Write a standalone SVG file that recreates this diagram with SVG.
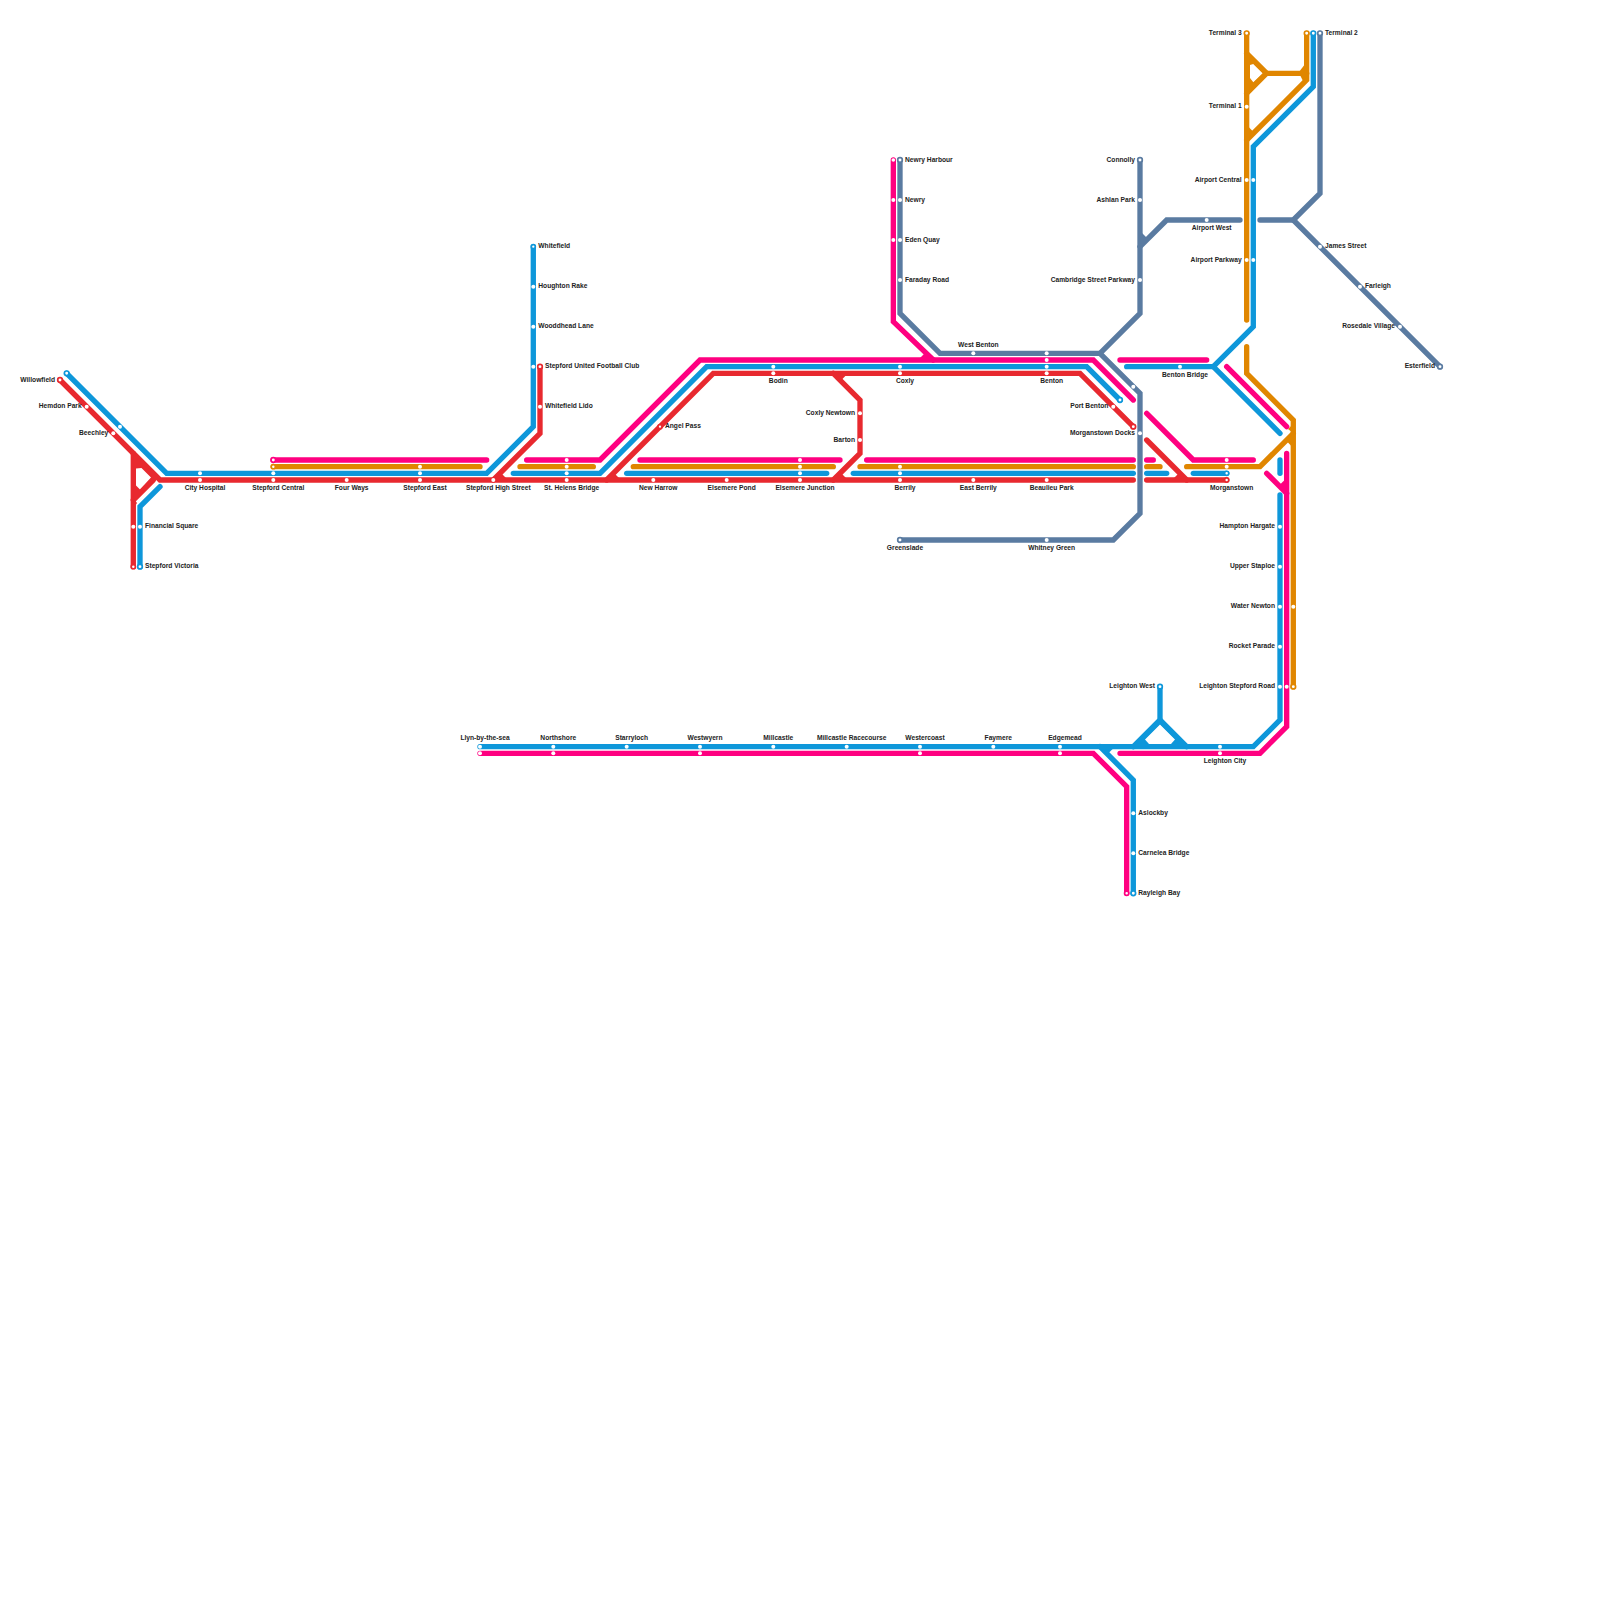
<svg xmlns="http://www.w3.org/2000/svg" width="1600" height="1600" viewBox="0 0 1600 1600">
<style>
text{font-family:"Liberation Sans",Arial,sans-serif;font-size:6.67px;font-weight:700;fill:#222}
.m{text-anchor:middle}.e{text-anchor:end}
.l{fill:none;stroke-width:5.33;stroke-linecap:round;stroke-linejoin:miter}
.r{stroke:#e8292f}.b{stroke:#0e97da}.p{stroke:#ff0080}.o{stroke:#e08600}.s{stroke:#5a7ba1}
.fr{fill:#e8292f}.fb{fill:#0e97da}.fp{fill:#ff0080}.fo{fill:#e08600}.fs{fill:#5a7ba1}
.d{fill:#fff}
circle.t{fill:#fff;stroke-width:1.7}
</style>
<rect width="1600" height="1600" fill="#fff"/>
<g id="connectors">
<g id="line-steel">
<path class="l s" d="M900 160V313.3L940 353.3H1100L1140 393.3V513.3L1113.3 540H900"/>
<path class="l s" d="M1140 160V313.3L1100 353.3"/>
<path class="l s" d="M1140 246.67L1166.67 220H1240"/>
<path class="l s" d="M1320 33.3V193.3L1293.3 220H1260"/>
<path class="l s" d="M1293.3 220L1440 366.67"/>
<polygon class="fs" points="1140,231 1148,239 1140,247"/>
</g>
<g id="line-orange">
<path class="l o" d="M273.3 466.67H480"/>
<path class="l o" d="M520 466.67H593.3"/>
<path class="l o" d="M633.3 466.67H833.3"/>
<path class="l o" d="M860 466.67H1133.3"/>
<path class="l o" d="M1146.67 466.67H1160"/>
<path class="l o" d="M1186.67 466.67H1260L1293.3 433.3"/>
<path class="l o" d="M1246.67 346.67V373.3L1293.3 420V686.67"/>
<path class="l o" d="M1246.67 33.3V320"/>
<path class="l o" d="M1306.67 33.3V80L1246.67 140"/>
<path class="l o" d="M1246.67 53.3L1266.67 73.3L1246.67 93.3"/>
<path class="l o" d="M1266.67 73.3H1306.67"/>
<path class="fo" fill-rule="evenodd" d="M1246.67 53.3L1266.67 73.3L1246.67 93.3ZM1250 65L1253.3 64L1262.7 73.3L1253.3 82.3L1250 78Z"/>
<polygon class="fo" points="1298,73.3 1306.67,62 1306.67,73.3"/>
<polygon class="fo" points="1300,75 1307,75 1303.5,82"/>
<polygon class="fo" points="1246.67,125 1254,132.5 1246.67,140"/>
<polygon class="fo" points="1293.3,433.3 1293.3,448 1286,440.6"/>
<polygon class="fo" points="1293.3,433.3 1293.3,424 1288,429"/>
</g>
<g id="line-blue">
<path class="l b" d="M66.67 373.3L166.67 473.33H486.67L533.3 426.67V246.67"/>
<path class="l b" d="M140 566.67V506.67L160 486.67"/>
<path class="l b" d="M513.3 473.33H600L706.67 366.67H1086.67L1120 400"/>
<path class="l b" d="M626.67 473.33H826.67"/>
<path class="l b" d="M853.3 473.33H1133.3"/>
<path class="l b" d="M1146.67 473.33H1166.67"/>
<path class="l b" d="M1193.3 473.33H1226.67"/>
<path class="l b" d="M1126.67 366.67H1213.3L1253.3 326.67V146.67L1313.3 86.67V33.3"/>
<path class="l b" d="M1213.3 366.67L1280 433.3"/>
<path class="l b" d="M1280 460V473.3"/>
<path class="l b" d="M1280 495V720L1253.3 746.67H480"/>
<path class="l b" d="M1100 746.67L1133.3 780V893.3"/>
<path class="l b" d="M1160 686.67V720L1133.3 746.67"/>
<path class="l b" d="M1160 720L1186.67 746.67"/>
<path class="fb" fill-rule="evenodd" d="M1160 720L1186.67 746.67H1133.3ZM1160 724.5L1175 739.5L1171 744H1149L1145 739.5Z"/>
<polygon class="fb" points="1098,746.67 1115,746.67 1107,754.5"/>
</g>
<g id="line-pink">
<path class="l p" d="M273.3 460H486.67"/>
<path class="l p" d="M526.67 460H600L700 360H1093.3L1133.3 400"/>
<path class="l p" d="M640 460H840"/>
<path class="l p" d="M866.67 460H1133.3"/>
<path class="l p" d="M1146.67 460H1153.3"/>
<path class="l p" d="M1146.67 413.3L1193.3 460H1253.3"/>
<path class="l p" d="M1120 360H1206.67"/>
<path class="l p" d="M1226.67 366.67L1286.67 426.67"/>
<path class="l p" d="M893.33 160V321.67L933.33 360"/>
<path class="l p" d="M1266.67 473.3L1286.67 493.3"/>
<path class="l p" d="M1286.67 453.3V726.67L1260 753.3H1120"/>
<path class="l p" d="M480 753.3H1093.3L1126.67 786.67V893.3"/>
<polygon class="fp" points="918,360 933,360 925.5,352.5"/>
<polygon class="fp" points="1286.67,478 1286.67,493.3 1279,485.6"/>
</g>
<g id="line-red">
<path class="l r" d="M60 380L160 480H1133.3"/>
<path class="l r" d="M133.3 453.3V566.67"/>
<path class="l r" d="M133.3 500L153.3 480"/>
<path class="fr" fill-rule="evenodd" d="M133.3 453.3L160 480L153.3 480L133.3 500ZM136 468.5L141.5 468L151 477.5L140 489.5L136 485.5Z"/>
<polygon class="fr" points="133.3,498 137,503 133.3,509"/>
<path class="l r" d="M540 366.67V433.3L493.3 480"/>
<path class="l r" d="M606.67 480L713.3 373.3H1080L1133.3 426.67"/>
<path class="l r" d="M833.3 373.3L860 400V453.3L833.3 480"/>
<path class="l r" d="M1146.67 480H1226.67"/>
<path class="l r" d="M1146.67 440L1186.67 480"/>
<polygon class="fr" points="493.3,480 508,480 500.5,472.5"/>
<polygon class="fr" points="606,480 621,480 613.5,472.5"/>
<polygon class="fr" points="833.3,480 848,480 840.5,472.5"/>
<polygon class="fr" points="833,373.3 848,373.3 840.5,381"/>
<polygon class="fr" points="1172,480 1187,480 1179.5,472.5"/>
</g>
</g>
<g id="nodes">
<g id="willowfield"><circle class="t r" cx="60" cy="380" r="2.3"/><text class="e" x="55" y="381.7">Willowfield</text></g>
<g id="blue-end-nw"><circle class="t b" cx="66.67" cy="373.3" r="2.3"/></g>
<g id="blue-beechley"><circle class="d" cx="120" cy="426.67" r="2"/></g>
<g id="hemdon-park"><circle class="d" cx="86.67" cy="406.67" r="2"/><text class="e" x="81.67" y="408.4">Hemdon Park</text></g>
<g id="beechley"><circle class="d" cx="113.3" cy="433.3" r="2"/><text class="e" x="108.3" y="435">Beechley</text></g>
<g id="city-hospital"><circle class="d" cx="200" cy="473.33" r="2"/><circle class="d" cx="200" cy="480" r="2"/><text class="m" x="205" y="490">City Hospital</text></g>
<g id="stepford-central"><circle class="t p" cx="273.3" cy="460" r="2.3"/><circle class="t o" cx="273.3" cy="466.67" r="2.1"/><circle class="d" cx="273.3" cy="473.33" r="2"/><circle class="d" cx="273.3" cy="480" r="2"/><text class="m" x="278.3" y="490">Stepford Central</text></g>
<g id="four-ways"><circle class="d" cx="346.67" cy="480" r="2"/><text class="m" x="351.67" y="490">Four Ways</text></g>
<g id="stepford-east"><circle class="d" cx="420" cy="466.67" r="2"/><circle class="d" cx="420" cy="473.33" r="2"/><circle class="d" cx="420" cy="480" r="2"/><text class="m" x="425" y="490">Stepford East</text></g>
<g id="stepford-high-street"><circle class="d" cx="493.3" cy="480" r="2"/><text class="m" x="498.3" y="490">Stepford High Street</text></g>
<g id="st-helens-bridge"><circle class="d" cx="566.67" cy="460" r="2"/><circle class="d" cx="566.67" cy="466.67" r="2"/><circle class="d" cx="566.67" cy="473.33" r="2"/><circle class="d" cx="566.67" cy="480" r="2"/><text class="m" x="571.67" y="490">St. Helens Bridge</text></g>
<g id="new-harrow"><circle class="d" cx="653.3" cy="480" r="2"/><text class="m" x="658.3" y="490">New Harrow</text></g>
<g id="elsemere-pond"><circle class="d" cx="726.67" cy="480" r="2"/><text class="m" x="731.67" y="490">Elsemere Pond</text></g>
<g id="elsemere-junction"><circle class="d" cx="800" cy="460" r="2"/><circle class="d" cx="800" cy="466.67" r="2"/><circle class="d" cx="800" cy="473.33" r="2"/><circle class="d" cx="800" cy="480" r="2"/><text class="m" x="805" y="490">Elsemere Junction</text></g>
<g id="berrily"><circle class="d" cx="900" cy="466.67" r="2"/><circle class="d" cx="900" cy="473.33" r="2"/><circle class="d" cx="900" cy="480" r="2"/><text class="m" x="905" y="490">Berrily</text></g>
<g id="east-berrily"><circle class="d" cx="973.3" cy="480" r="2"/><text class="m" x="978.3" y="490">East Berrily</text></g>
<g id="beaulieu-park"><circle class="d" cx="1046.67" cy="480" r="2"/><text class="m" x="1051.67" y="490">Beaulieu Park</text></g>
<g id="morganstown"><circle class="d" cx="1226.67" cy="460" r="2"/><circle class="d" cx="1226.67" cy="466.67" r="2"/><circle class="t b" cx="1226.67" cy="473.33" r="2.1"/><circle class="t r" cx="1226.67" cy="480" r="2.1"/><text class="m" x="1231.67" y="490">Morganstown</text></g>
<g id="financial-square"><circle class="d" cx="133.3" cy="526.67" r="2"/><circle class="d" cx="140" cy="526.67" r="2"/><text x="145" y="528.4">Financial Square</text></g>
<g id="stepford-victoria"><circle class="t r" cx="133.3" cy="566.67" r="2.1"/><circle class="t b" cx="140" cy="566.67" r="2.3"/><text x="145" y="568.4">Stepford Victoria</text></g>
<g id="whitefield"><circle class="t b" cx="533.3" cy="246.67" r="2"/><text x="538.3" y="248.4">Whitefield</text></g>
<g id="houghton-rake"><circle class="d" cx="533.3" cy="286.67" r="2"/><text x="538.3" y="288.4">Houghton Rake</text></g>
<g id="wooddhead-lane"><circle class="d" cx="533.3" cy="326.67" r="2"/><text x="538.3" y="328.4">Wooddhead Lane</text></g>
<g id="stepford-united"><circle class="d" cx="533.3" cy="366.67" r="2"/><circle class="t r" cx="540" cy="366.67" r="2.3"/><text x="545" y="368.4">Stepford United Football Club</text></g>
<g id="whitefield-lido"><circle class="d" cx="540" cy="406.67" r="2"/><text x="545" y="408.4">Whitefield Lido</text></g>
<g id="angel-pass"><circle class="t r" cx="660" cy="426.67" r="2"/><text x="665" y="428.4">Angel Pass</text></g>
<g id="bodin"><circle class="d" cx="773.3" cy="366.67" r="2"/><circle class="d" cx="773.3" cy="373.3" r="2"/><text class="m" x="778.3" y="383">Bodin</text></g>
<g id="coxly"><circle class="d" cx="900" cy="366.67" r="2"/><circle class="d" cx="900" cy="373.3" r="2"/><text class="m" x="905" y="383">Coxly</text></g>
<g id="benton"><circle class="d" cx="1046.67" cy="353.3" r="2"/><circle class="d" cx="1046.67" cy="360" r="2"/><circle class="d" cx="1046.67" cy="366.67" r="2"/><circle class="d" cx="1046.67" cy="373.3" r="2"/><text class="m" x="1051.67" y="383">Benton</text></g>
<g id="west-benton"><circle class="d" cx="973.3" cy="353.3" r="2"/><text class="m" x="978.3" y="346.7">West Benton</text></g>
<g id="coxly-newtown"><circle class="d" cx="860" cy="413.3" r="2"/><text class="e" x="855" y="415">Coxly Newtown</text></g>
<g id="barton"><circle class="d" cx="860" cy="440" r="2"/><text class="e" x="855" y="441.7">Barton</text></g>
<g id="port-benton"><circle class="t b" cx="1120" cy="400" r="2.3"/><circle class="d" cx="1113.3" cy="406.67" r="2"/><text class="e" x="1108.3" y="408.4">Port Benton</text></g>
<g id="morganstown-docks"><circle class="t r" cx="1133.3" cy="426.67" r="2.3"/><circle class="d" cx="1140" cy="433.3" r="2"/><text class="e" x="1135" y="435">Morganstown Docks</text></g>
<g id="steel-benton-link"><circle class="d" cx="1133.3" cy="386.67" r="2"/></g>
<g id="newry-harbour"><circle class="d" cx="893.33" cy="160" r="1.8"/><circle class="t s" cx="900" cy="160" r="2.3"/><text x="905" y="161.7">Newry Harbour</text></g>
<g id="newry"><circle class="d" cx="893.33" cy="200" r="2"/><circle class="d" cx="900" cy="200" r="2"/><text x="905" y="201.7">Newry</text></g>
<g id="eden-quay"><circle class="d" cx="893.33" cy="240" r="2"/><circle class="d" cx="900" cy="240" r="2"/><text x="905" y="241.7">Eden Quay</text></g>
<g id="faraday-road"><circle class="d" cx="900" cy="280" r="2"/><text x="905" y="281.7">Faraday Road</text></g>
<g id="greenslade"><circle class="t s" cx="900" cy="540" r="2.3"/><text class="m" x="905" y="550">Greenslade</text></g>
<g id="whitney-green"><circle class="d" cx="1046.67" cy="540" r="2"/><text class="m" x="1051.67" y="550">Whitney Green</text></g>
<g id="connolly"><circle class="t s" cx="1140" cy="160" r="2.3"/><text class="e" x="1135" y="161.7">Connolly</text></g>
<g id="ashlan-park"><circle class="d" cx="1140" cy="200" r="2"/><text class="e" x="1135" y="201.7">Ashlan Park</text></g>
<g id="cambridge-street-parkway"><circle class="d" cx="1140" cy="280" r="2"/><text class="e" x="1135" y="281.7">Cambridge Street Parkway</text></g>
<g id="airport-west"><circle class="d" cx="1206.67" cy="220" r="2"/><text class="m" x="1211.67" y="230">Airport West</text></g>
<g id="benton-bridge"><circle class="d" cx="1180" cy="366.67" r="2"/><text class="m" x="1185" y="376.7">Benton Bridge</text></g>
<g id="terminal-3"><circle class="t o" cx="1246.67" cy="33.3" r="2.3"/><text class="e" x="1241.67" y="35">Terminal 3</text></g>
<g id="terminal-1"><circle class="d" cx="1246.67" cy="106.67" r="2"/><text class="e" x="1241.67" y="108.4">Terminal 1</text></g>
<g id="airport-central"><circle class="d" cx="1246.67" cy="180" r="2"/><circle class="d" cx="1253.3" cy="180" r="2"/><text class="e" x="1241.67" y="181.7">Airport Central</text></g>
<g id="airport-parkway"><circle class="d" cx="1246.67" cy="260" r="2"/><circle class="d" cx="1253.3" cy="260" r="2"/><text class="e" x="1241.67" y="261.7">Airport Parkway</text></g>
<g id="terminal-2"><circle class="t o" cx="1306.67" cy="33.3" r="2.3"/><circle class="t b" cx="1313.3" cy="33.3" r="2.3"/><circle class="t s" cx="1320" cy="33.3" r="2.3"/><text x="1325" y="35">Terminal 2</text></g>
<g id="james-street"><circle class="d" cx="1320" cy="246.67" r="2"/><text x="1325" y="248.4">James Street</text></g>
<g id="farleigh"><circle class="d" cx="1360" cy="286.67" r="2"/><text x="1365" y="288.4">Farleigh</text></g>
<g id="rosedale-village"><circle class="d" cx="1400" cy="326.67" r="2"/><text class="e" x="1395" y="328.4">Rosedale Village</text></g>
<g id="esterfield"><circle class="t s" cx="1440" cy="366.67" r="2.3"/><text class="e" x="1435" y="368.4">Esterfield</text></g>
<g id="hampton-hargate"><circle class="d" cx="1280" cy="526.67" r="2"/><text class="e" x="1275" y="528.4">Hampton Hargate</text></g>
<g id="upper-staploe"><circle class="d" cx="1280" cy="566.67" r="2"/><text class="e" x="1275" y="568.4">Upper Staploe</text></g>
<g id="water-newton"><circle class="d" cx="1280" cy="606.67" r="2"/><circle class="d" cx="1293.3" cy="606.67" r="2"/><text class="e" x="1275" y="608.4">Water Newton</text></g>
<g id="rocket-parade"><circle class="d" cx="1280" cy="646.67" r="2"/><text class="e" x="1275" y="648.4">Rocket Parade</text></g>
<g id="leighton-stepford-road"><circle class="d" cx="1280" cy="686.67" r="2"/><circle class="d" cx="1286.67" cy="686.67" r="2"/><circle class="t o" cx="1293.3" cy="686.67" r="2.3"/><text class="e" x="1275" y="688.4">Leighton Stepford Road</text></g>
<g id="leighton-west"><circle class="t b" cx="1160" cy="686.67" r="2.3"/><text class="e" x="1155" y="688.4">Leighton West</text></g>
<g id="leighton-city"><circle class="d" cx="1220" cy="746.67" r="2"/><circle class="d" cx="1220" cy="753.3" r="2"/><text class="m" x="1225" y="763.3">Leighton City</text></g>
<g id="llyn-by-the-sea"><circle class="d" cx="480" cy="746.67" r="2"/><circle class="d" cx="480" cy="753.3" r="2"/><text class="m" x="485" y="740">Llyn-by-the-sea</text></g>
<g id="northshore"><circle class="d" cx="553.3" cy="746.67" r="2"/><circle class="d" cx="553.3" cy="753.3" r="2"/><text class="m" x="558.3" y="740">Northshore</text></g>
<g id="starryloch"><circle class="d" cx="626.67" cy="746.67" r="2"/><text class="m" x="631.67" y="740">Starryloch</text></g>
<g id="westwyern"><circle class="d" cx="700" cy="746.67" r="2"/><circle class="d" cx="700" cy="753.3" r="2"/><text class="m" x="705" y="740">Westwyern</text></g>
<g id="millcastle"><circle class="d" cx="773.3" cy="746.67" r="2"/><text class="m" x="778.3" y="740">Millcastle</text></g>
<g id="millcastle-racecourse"><circle class="d" cx="846.67" cy="746.67" r="2"/><text class="m" x="851.67" y="740">Millcastle Racecourse</text></g>
<g id="westercoast"><circle class="d" cx="920" cy="746.67" r="2"/><circle class="d" cx="920" cy="753.3" r="2"/><text class="m" x="925" y="740">Westercoast</text></g>
<g id="faymere"><circle class="d" cx="993.3" cy="746.67" r="2"/><text class="m" x="998.3" y="740">Faymere</text></g>
<g id="edgemead"><circle class="d" cx="1060" cy="746.67" r="2"/><circle class="d" cx="1060" cy="753.3" r="2"/><text class="m" x="1065" y="740">Edgemead</text></g>
<g id="aslockby"><circle class="d" cx="1133.3" cy="813.3" r="2"/><text x="1138.3" y="815">Aslockby</text></g>
<g id="carnelea-bridge"><circle class="d" cx="1133.3" cy="853.3" r="2"/><text x="1138.3" y="855">Carnelea Bridge</text></g>
<g id="rayleigh-bay"><circle class="t p" cx="1126.67" cy="893.3" r="2.1"/><circle class="t b" cx="1133.3" cy="893.3" r="2.3"/><text x="1138.3" y="895">Rayleigh Bay</text></g>
</g>
</svg>
